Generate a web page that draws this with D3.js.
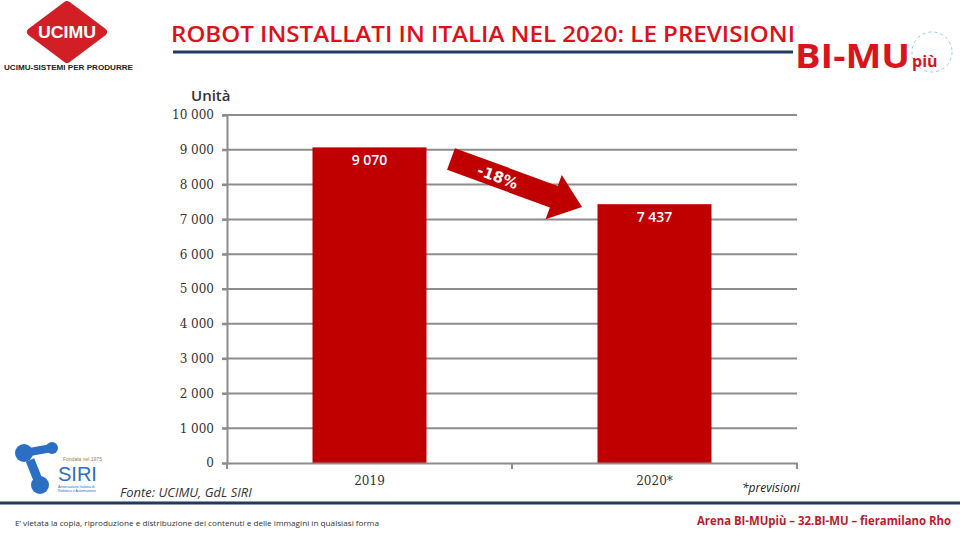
<!DOCTYPE html>
<html><head><meta charset="utf-8">
<script src="https://cdn.jsdelivr.net/npm/d3@7"></script>
<style>html,body{margin:0;padding:0;background:#fff;}svg{display:block;}</style>
</head><body>
<script>
const categories = ["2019", "2020*"];
const values = [9070, 7437];
const valueLabels = ["9 070", "7 437"];
const yTicks = [0, 1000, 2000, 3000, 4000, 5000, 6000, 7000, 8000, 9000, 10000];
const changeLabel = "-18%";

const W = 960, H = 540;
const svg = d3.select("body").append("svg").attr("width", W).attr("height", H);

const x = d3.scaleBand().domain(categories).range([227, 797]).paddingInner(0.6).paddingOuter(0.3);
const y = d3.scaleLinear().domain([0, 10000]).range([463, 115]);
const fmt = v => d3.format(",")(v).replace(/,/g, " ");
const grey = "#8c8c8c";

// gridlines
svg.append("g").selectAll("line").data(yTicks.filter(d => d > 0)).join("line")
  .attr("x1", 222).attr("x2", 797).attr("y1", d => y(d)).attr("y2", d => y(d))
  .attr("stroke", grey).attr("stroke-width", 2);

// y axis
const yAxis = svg.append("g").attr("transform", "translate(227,0)")
  .call(d3.axisLeft(y).tickValues(yTicks).tickFormat(fmt).tickSize(5).tickPadding(8));
yAxis.select(".domain").attr("stroke", grey).attr("stroke-width", 2);
yAxis.selectAll(".tick line").attr("stroke", grey).attr("stroke-width", 2);
yAxis.selectAll("text").attr("font-family", "'DejaVu Serif', serif").attr("font-size", 12).attr("fill", "#333");

// bars
svg.append("g").selectAll("rect").data(values).join("rect")
  .attr("x", (d, i) => x(categories[i])).attr("width", x.bandwidth())
  .attr("y", d => y(d)).attr("height", d => y(0) - y(d)).attr("fill", "#c00000");

// x axis
const xAxis = svg.append("g").attr("transform", "translate(0,463)")
  .call(d3.axisBottom(x).tickSize(0).tickPadding(13));
xAxis.select(".domain").attr("stroke", grey).attr("stroke-width", 2);
xAxis.selectAll("text").attr("font-family", "'DejaVu Serif', serif").attr("font-size", 12).attr("fill", "#333");
// category boundary ticks
const bounds = [227, 227 + x.step(), 797];
svg.append("g").selectAll("line").data(bounds).join("line")
  .attr("x1", d => d).attr("x2", d => d).attr("y1", 463).attr("y2", 469)
  .attr("stroke", grey).attr("stroke-width", 2);

// value labels
svg.append("g").selectAll("text").data(values).join("text")
  .attr("x", (d, i) => x(categories[i]) + x.bandwidth() / 2)
  .attr("y", d => y(d) + 18)
  .attr("text-anchor", "middle").attr("fill", "#fff")
  .attr("font-family", "'Open Sans', sans-serif").attr("font-size", 14).attr("font-weight", 600)
  .text((d, i) => valueLabels[i]);

// arrow
const ax0 = 451, ay0 = 159, ax1 = 582, ay1 = 207;
const ang = Math.atan2(ay1 - ay0, ax1 - ax0) * 180 / Math.PI;
const len = Math.hypot(ax1 - ax0, ay1 - ay0);
const ag = svg.append("g").attr("transform", `translate(${ax0},${ay0}) rotate(${ang})`);
ag.append("path")
  .attr("d", `M0,-11.5 L${len - 30},-11.5 L${len - 30},-23 L${len},0 L${len - 30},24 L${len - 30},11.5 L0,11.5 Z`)
  .attr("fill", "#c00000");
ag.append("text").attr("x", 50).attr("y", 6).attr("text-anchor", "middle")
  .attr("fill", "#fff").attr("font-family", "'DejaVu Sans', sans-serif").attr("font-size", 15).attr("font-weight", "bold")
  .text(changeLabel);

// Unità
svg.append("text").attr("x", 191).attr("y", 101).attr("font-family", "'Open Sans', sans-serif")
  .attr("font-size", 15).attr("font-weight", 600).attr("fill", "#333").text("Unità");

// Title
svg.append("text").attr("x", 171).attr("y", 42).attr("font-family", "'Open Sans', sans-serif")
  .attr("font-size", 21).attr("font-weight", 600).attr("fill", "#e00f1a").attr("textLength", 624).attr("lengthAdjust", "spacingAndGlyphs")
  .text("ROBOT INSTALLATI IN ITALIA NEL 2020: LE PREVISIONI");
svg.append("line").attr("x1", 173).attr("x2", 793).attr("y1", 52).attr("y2", 52)
  .attr("stroke", "#1f3a5f").attr("stroke-width", 3);

// UCIMU logo
const ug = svg.append("g").attr("transform", "translate(67,32)");
ug.append("path").attr("d", "M0,-27 L36,0 L0,27 L-36,0 Z").attr("fill", "#d21f26").attr("stroke", "#d21f26").attr("stroke-width", 8).attr("stroke-linejoin", "round");
ug.append("text").attr("text-anchor", "middle").attr("y", 6).attr("fill", "#fff")
  .attr("font-family", "'Liberation Sans', sans-serif").attr("font-weight", "bold").attr("font-size", 17)
  .attr("textLength", 58).attr("lengthAdjust", "spacingAndGlyphs").text("UCIMU");
svg.append("text").attr("x", 4).attr("y", 70).attr("font-family", "'Liberation Sans', sans-serif")
  .attr("font-size", 7.5).attr("font-weight", "bold").attr("fill", "#222").attr("textLength", 129)
  .attr("lengthAdjust", "spacingAndGlyphs").text("UCIMU-SISTEMI PER PRODURRE");

// BI-MU più logo
svg.append("circle").attr("cx", 932).attr("cy", 52).attr("r", 20).attr("fill", "none")
  .attr("stroke", "#9fc7dc").attr("stroke-width", 1).attr("stroke-dasharray", "3,3");
svg.append("text").attr("x", 795).attr("y", 68).attr("font-family", "'Open Sans', sans-serif")
  .attr("font-size", 34).attr("font-weight", "bold").attr("fill", "#d9141d")
  .attr("textLength", 115).attr("lengthAdjust", "spacingAndGlyphs").text("BI-MU");
svg.append("text").attr("x", 912).attr("y", 67).attr("font-family", "'Open Sans', sans-serif")
  .attr("font-size", 16).attr("font-weight", "bold").attr("fill", "#d9141d").text("più");

// SIRI logo
const sg = svg.append("g");
sg.append("circle").attr("cx", 24).attr("cy", 453).attr("r", 9).attr("fill", "#2a6fc4");
sg.append("circle").attr("cx", 52).attr("cy", 448).attr("r", 6).attr("fill", "#2a6fc4");
sg.append("circle").attr("cx", 40).attr("cy", 485).attr("r", 9).attr("fill", "#2a6fc4");
sg.append("line").attr("x1", 24).attr("y1", 453).attr("x2", 52).attr("y2", 448).attr("stroke", "#2a6fc4").attr("stroke-width", 8);
sg.append("line").attr("x1", 30).attr("y1", 460).attr("x2", 40).attr("y2", 485).attr("stroke", "#2a6fc4").attr("stroke-width", 9);
sg.append("text").attr("x", 58).attr("y", 481).attr("font-family", "'Liberation Sans', sans-serif")
  .attr("font-size", 20).attr("fill", "#2a6fc4").text("SIRI");
sg.append("text").attr("x", 63).attr("y", 461).attr("font-family", "'Liberation Sans', sans-serif")
  .attr("font-size", 5).attr("fill", "#a08040").text("Fondata nel 1975");
sg.append("text").attr("x", 58).attr("y", 488).attr("font-family", "'Liberation Sans', sans-serif")
  .attr("font-size", 3.5).attr("fill", "#2a6fc4").text("Associazione Italiana di");
sg.append("text").attr("x", 58).attr("y", 492).attr("font-family", "'Liberation Sans', sans-serif")
  .attr("font-size", 3.5).attr("fill", "#2a6fc4").text("Robotica e Automazione");

// Fonte
svg.append("text").attr("x", 120).attr("y", 497).attr("font-family", "'Open Sans', sans-serif")
  .attr("font-size", 13).attr("font-style", "italic").attr("fill", "#333").text("Fonte: UCIMU, GdL SIRI");
svg.append("text").attr("x", 742).attr("y", 492).attr("font-family", "'Open Sans', sans-serif")
  .attr("font-size", 12).attr("font-style", "italic").attr("fill", "#222").text("*previsioni");

// footer
svg.append("line").attr("x1", 0).attr("x2", 960).attr("y1", 503).attr("y2", 503)
  .attr("stroke", "#1f3a5f").attr("stroke-width", 3);
svg.append("text").attr("x", 15).attr("y", 526).attr("font-family", "'Open Sans', sans-serif")
  .attr("font-size", 7.5).attr("fill", "#333").attr("textLength", 364).attr("lengthAdjust", "spacingAndGlyphs")
  .text("E’ vietata la copia, riproduzione e distribuzione dei contenuti e delle immagini in qualsiasi forma");
svg.append("text").attr("x", 697).attr("y", 525).attr("font-family", "'Open Sans', sans-serif")
  .attr("font-size", 11.5).attr("font-weight", "bold").attr("fill", "#c0182a").attr("textLength", 254)
  .attr("lengthAdjust", "spacingAndGlyphs").text("Arena BI-MUpiù – 32.BI-MU – fieramilano Rho");
</script>
</body></html>
